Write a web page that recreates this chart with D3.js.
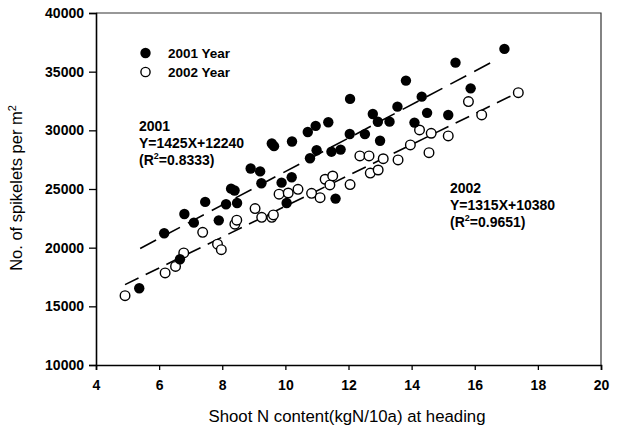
<!DOCTYPE html>
<html>
<head>
<meta charset="utf-8">
<script src="https://cdn.jsdelivr.net/npm/d3@7/dist/d3.min.js"></script>
<style>
  body { margin: 0; background: #fff; }
  text { font-family: Arial, "Liberation Sans", sans-serif; fill: #000; }
</style>
</head>
<body>
<div id="chart"></div>
<script>
// shoot N content (x) and spikelets per m2 (y)
let n2001 = [5.37, 6.16, 6.66, 6.8, 7.1, 7.46, 7.89, 8.12, 8.28, 8.39, 8.47, 8.9, 9.2, 9.24,
  9.57, 9.64, 9.88, 10.04, 10.2, 10.21, 10.71, 10.78, 10.96, 10.99, 11.36, 11.46, 11.59,
  11.75, 12.05, 12.04, 12.52, 12.77, 12.93, 13.0, 13.3, 13.55, 13.82, 14.09, 14.32, 14.49,
  15.16, 15.39, 15.87, 16.94];
let spk2001 = [16540, 21230, 19010, 22870, 22130, 23900, 22330, 23700, 25030, 24870, 23810,
  26750, 26500, 25490, 28880, 28650, 25540, 23810, 26000, 29050, 29860, 27620, 30380, 28300,
  30690, 28180, 24180, 28360, 32680, 29690, 29680, 31390, 30730, 29110, 30740, 32020, 34240,
  30660, 32870, 31490, 31310, 35770, 33580, 36940];

let n2002 = [4.92, 6.19, 6.52, 6.78, 7.38, 7.85, 7.97, 8.4, 8.46, 9.04, 9.25, 9.57, 9.62,
  9.8, 10.09, 10.4, 10.83, 11.1, 11.26, 11.41, 11.5, 12.05, 12.36, 12.65, 12.69, 12.94, 13.1,
  13.57, 13.96, 14.25, 14.55, 14.62, 15.16, 15.8, 16.22, 17.38];
let spk2002 = [15910, 17850, 18400, 19550, 21310, 20300, 19830, 22000, 22340, 23330, 22590,
  22590, 22790, 24560, 24660, 24970, 24630, 24260, 25830, 25350, 26110, 25380, 27820, 27820,
  26360, 26620, 27580, 27480, 28760, 30030, 28100, 29750, 29520, 32450, 31310, 33210];

// regression lines as printed on the chart: [slope, intercept, x from, x to]
let fit2001 = [1425, 12240, 5.4, 16.6];
let fit2002 = [1315, 10380, 4.92, 17.38];

let xTicks = [4, 6, 8, 10, 12, 14, 16, 18, 20];
let yTicks = [10000, 15000, 20000, 25000, 30000, 35000, 40000];
let legendLabels = ["2001 Year", "2002 Year"];
let label2001 = ["2001", "Y=1425X+12240", "(R", "=0.8333)"];
let label2002 = ["2002", "Y=1315X+10380", "(R", "=0.9651)"];

let width = 619;
let height = 428;
let plot = { left: 96, right: 601, top: 13, bottom: 365 };

let svg = d3
  .select("#chart")
  .append("svg")
  .attr("width", width)
  .attr("height", height);

let x = d3.scaleLinear().domain([4, 20]).range([plot.left, plot.right]);
let y = d3.scaleLinear().domain([10000, 40000]).range([plot.bottom, plot.top]);

// frame top + right (lighter than the axes)
svg
  .append("path")
  .attr("d", `M${plot.left},${plot.top}H${plot.right}V${plot.bottom}`)
  .attr("fill", "none")
  .attr("stroke", "#333")
  .attr("stroke-width", 1.2);

let xAxis = svg
  .append("g")
  .attr("transform", `translate(0,${plot.bottom})`)
  .call(d3.axisBottom(x).tickValues(xTicks).tickSizeOuter(0).tickSize(5).tickPadding(10));

let yAxis = svg
  .append("g")
  .attr("transform", `translate(${plot.left},0)`)
  .call(
    d3.axisLeft(y).tickValues(yTicks).tickFormat(d3.format("d"))
      .tickSizeOuter(0).tickSize(7).tickPadding(5)
  );

[xAxis, yAxis].forEach((ax) => {
  ax.select(".domain").attr("stroke", "#000").attr("stroke-width", 1.6);
  ax.selectAll(".tick line").attr("stroke", "#000").attr("stroke-width", 1.3);
  ax.selectAll(".tick text")
    .attr("fill", "#000")
    .attr("font-size", 14)
    .attr("font-weight", "bold")
    .attr("font-family", "Arial, 'Liberation Sans', sans-serif");
});

// axis titles
svg
  .append("text")
  .attr("x", 347)
  .attr("y", 422)
  .attr("text-anchor", "middle")
  .attr("font-size", 16.8)
  .text("Shoot N content(kgN/10a) at heading");

let yTitle = svg
  .append("text")
  .attr("transform", "translate(22,188) rotate(-90)")
  .attr("text-anchor", "middle")
  .attr("font-size", 16.5);
yTitle.append("tspan").text("No. of spikelets per m");
yTitle.append("tspan").attr("font-size", 11).attr("dy", -6).text("2");

// regression lines
function fitLine(fit, dash) {
  let pts = [fit[2], fit[3]].map((v) => [v, fit[0] * v + fit[1]]);
  svg
    .append("path")
    .attr("d", d3.line().x((d) => x(d[0])).y((d) => y(d[1]))(pts))
    .attr("fill", "none")
    .attr("stroke", "#000")
    .attr("stroke-width", 1.6)
    .attr("stroke-dasharray", dash);
}
fitLine(fit2001, "18,9");
fitLine(fit2002, "15,8");

// points
let pts2001 = n2001.map((v, i) => ({ x: v, y: spk2001[i] }));
let pts2002 = n2002.map((v, i) => ({ x: v, y: spk2002[i] }));

svg
  .append("g")
  .selectAll("circle")
  .data(pts2002)
  .join("circle")
  .attr("cx", (d) => x(d.x))
  .attr("cy", (d) => y(d.y))
  .attr("r", 4.8)
  .attr("fill", "#fff")
  .attr("stroke", "#000")
  .attr("stroke-width", 1.4);

svg
  .append("g")
  .selectAll("circle")
  .data(pts2001)
  .join("circle")
  .attr("cx", (d) => x(d.x))
  .attr("cy", (d) => y(d.y))
  .attr("r", 5.2)
  .attr("fill", "#000");

// legend
let legend = svg.append("g");
legendLabels.forEach((lab, i) => {
  let cy = 53 + i * 19;
  legend
    .append("circle")
    .attr("cx", 145.5)
    .attr("cy", cy)
    .attr("r", i == 0 ? 5.2 : 4.6)
    .attr("fill", i == 0 ? "#000" : "#fff")
    .attr("stroke", "#000")
    .attr("stroke-width", i == 0 ? 0 : 1.4);
  legend
    .append("text")
    .attr("x", 168)
    .attr("y", cy + 5)
    .attr("font-size", 13.5)
    .attr("font-weight", "bold")
    .text(lab);
});

// equation labels
function eqLabel(lines, lx, ly) {
  let g = svg.append("g").attr("font-size", 14).attr("font-weight", "bold");
  g.append("text").attr("x", lx).attr("y", ly).text(lines[0]);
  g.append("text").attr("x", lx).attr("y", ly + 17).text(lines[1]);
  let r2 = g.append("text").attr("x", lx).attr("y", ly + 34);
  r2.append("tspan").text(lines[2]);
  r2.append("tspan").attr("font-size", 9).attr("dy", -6).text("2");
  r2.append("tspan").attr("dy", 6).text(lines[3]);
}
eqLabel(label2001, 139, 131);
eqLabel(label2002, 450, 193);
</script>
</body>
</html>
